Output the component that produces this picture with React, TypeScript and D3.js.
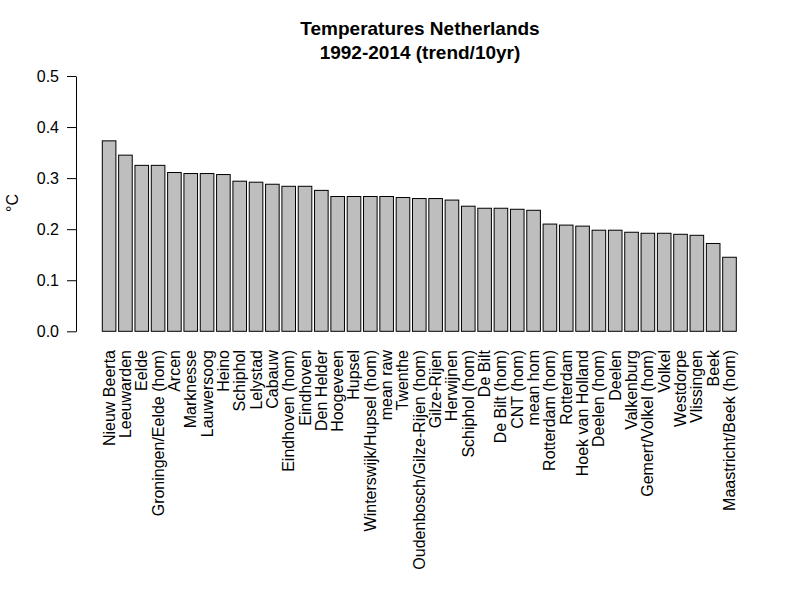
import React, { useRef, useEffect } from 'react';
import * as d3 from 'd3';

const stations = [
  'Nieuw Beerta', 'Leeuwarden', 'Eelde', 'Groningen/Eelde (hom)', 'Arcen', 'Marknesse',
  'Lauwersoog', 'Heino', 'Schiphol', 'Lelystad', 'Cabauw', 'Eindhoven (hom)', 'Eindhoven',
  'Den Helder', 'Hoogeveen', 'Hupsel', 'Winterswijk/Hupsel (hom)', 'mean raw', 'Twenthe',
  'Oudenbosch/Gilze-Rijen (hom)', 'Gilze-Rijen', 'Herwijnen', 'Schiphol (hom)', 'De Bilt',
  'De Bilt (hom)', 'CNT (hom)', 'mean hom', 'Rotterdam (hom)', 'Rotterdam', 'Hoek van Holland',
  'Deelen (hom)', 'Deelen', 'Valkenburg', 'Gemert/Volkel (hom)', 'Volkel', 'Westdorpe',
  'Vlissingen', 'Beek', 'Maastricht/Beek (hom)',
];

const trends = [
  0.373, 0.345, 0.325, 0.325, 0.311, 0.309, 0.309, 0.307, 0.294, 0.292, 0.288, 0.284, 0.284,
  0.276, 0.264, 0.264, 0.264, 0.264, 0.262, 0.26, 0.26, 0.257, 0.245, 0.241, 0.241, 0.239,
  0.237, 0.21, 0.208, 0.206, 0.198, 0.198, 0.194, 0.192, 0.192, 0.19, 0.188, 0.172, 0.145,
];

const yTicks = [0, 0.1, 0.2, 0.3, 0.4, 0.5];
const titleLines = ['Temperatures Netherlands', '1992-2014 (trend/10yr)'];

const font = '"Liberation Sans", Arial, sans-serif';

const App: React.FC = () => {
  const svgRef = useRef<SVGSVGElement>(null);

  useEffect(() => {
    if (!svgRef.current) return;
    const width = 800;
    const height = 600;

    const svg = d3.select(svgRef.current);
    svg.selectAll('*').remove();
    svg.attr('width', width).attr('height', height);

    svg.append('rect').attr('width', width).attr('height', height).attr('fill', '#ffffff');

    // Scales
    const xScale = d3
      .scaleBand<string>()
      .domain(stations)
      .range([102.3, 736.3])
      .paddingInner(1 / 6)
      .paddingOuter(0);

    const yScale = d3.scaleLinear().domain([0, 0.5]).range([331.3, 76]);

    // Bars
    svg
      .append('g')
      .selectAll('rect')
      .data(trends)
      .enter()
      .append('rect')
      .attr('x', (_, i) => xScale(stations[i])!)
      .attr('y', (d) => yScale(d))
      .attr('width', xScale.bandwidth())
      .attr('height', (d) => yScale(0) - yScale(d))
      .attr('fill', '#bebebe')
      .attr('stroke', '#000000')
      .attr('stroke-width', 1);

    // Y axis
    const yAxis = svg
      .append('g')
      .attr('transform', 'translate(76,0)')
      .call(
        d3
          .axisLeft(yScale)
          .tickValues(yTicks)
          .tickSize(9)
          .tickPadding(8)
          .tickSizeOuter(0)
          .tickFormat(d3.format('.1f'))
      );
    yAxis.select('.domain').attr('stroke', '#000').attr('stroke-width', 1);
    yAxis.selectAll('.tick line').attr('stroke', '#000');
    yAxis
      .selectAll('.tick text')
      .attr('fill', '#000')
      .style('font-family', font)
      .style('font-size', '16px');

    // X labels (rotated)
    svg
      .append('g')
      .selectAll('text')
      .data(stations)
      .enter()
      .append('text')
      .attr(
        'transform',
        (d) => `translate(${xScale(d)! + xScale.bandwidth() / 2},350) rotate(-90)`
      )
      .attr('text-anchor', 'end')
      .attr('dominant-baseline', 'central')
      .style('font-family', font)
      .style('font-size', '16px')
      .attr('fill', '#000')
      .text((d) => d);

    // Title
    svg
      .append('g')
      .selectAll('text')
      .data(titleLines)
      .enter()
      .append('text')
      .attr('x', 420)
      .attr('y', (_, i) => 35 + i * 24)
      .attr('text-anchor', 'middle')
      .style('font-family', font)
      .style('font-size', '19px')
      .style('font-weight', 'bold')
      .attr('fill', '#000')
      .text((d) => d);

    // Y label
    svg
      .append('text')
      .attr('transform', 'translate(12,203) rotate(-90)')
      .attr('text-anchor', 'middle')
      .attr('dominant-baseline', 'central')
      .style('font-family', font)
      .style('font-size', '16px')
      .attr('fill', '#000')
      .text('°C');
  }, []);

  return (
    <div style={{ position: 'absolute', left: 0, top: 0 }}>
      <svg ref={svgRef}></svg>
    </div>
  );
};

export default App;
